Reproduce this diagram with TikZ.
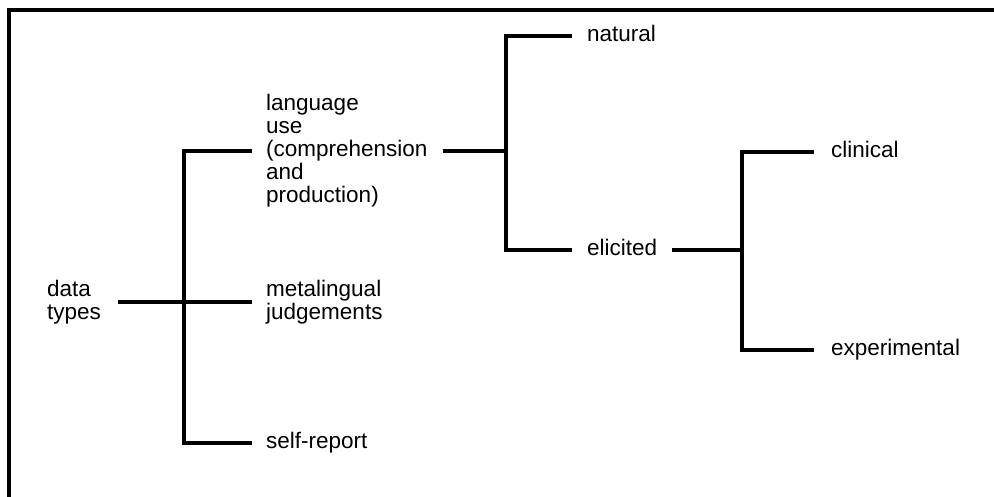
\documentclass[tikz,border=0pt]{standalone}
\usepackage{fontspec}
\setmainfont{Liberation Sans}
\begin{document}
\begin{tikzpicture}[x=1bp,y=-1bp,
  lbl/.style={anchor=west, inner sep=0pt, align=left,
    font=\fontsize{22.5bp}{23bp}\selectfont},
  oneline/.style={lbl, text height=16bp, text depth=4.6bp},
  link/.style={line width=3.3bp, line join=miter}]
\useasboundingbox (0,0) rectangle (994,497);

% open frame: left and top edges only
\draw[link] (9,497) -- (9,10) -- (994,10);

% labels
\node[lbl] (dt) at (47,302) {data\\types};
\node[lbl] (lang) at (266,151) {language\\use\\(comprehension\\and\\production)};
\node[lbl] (meta) at (266,302) {metalingual\\judgements};
\node[oneline] (self) at (266,443) {self-report};
\node[oneline] (nat) at (587,36) {natural};
\node[oneline] (eli) at (587,250) {elicited};
\node[oneline] (cli) at (831,152) {clinical};
\node[oneline] (exp) at (831,350) {experimental};

% branching points
\coordinate (j1) at (184,302);
\coordinate (j2) at (506,151);
\coordinate (j3) at (742,250);

% first level: data types
\draw[link] ([xshift=17bp]dt.east) -- ([xshift=-14bp]meta.west);
\draw[link] ([xshift=-14bp]lang.west) -| (j1) |- ([xshift=-14bp]self.west);

% second level: language use
\draw[link] ([xshift=15bp]lang.east) -- (j2);
\draw[link] ([xshift=-15bp]nat.west) -| (j2) |- ([xshift=-15bp]eli.west);

% third level: elicited
\draw[link] ([xshift=15bp]eli.east) -- (j3);
\draw[link] ([xshift=-17bp]cli.west) -| (j3) |- ([xshift=-17bp]exp.west);
\end{tikzpicture}
\end{document}
